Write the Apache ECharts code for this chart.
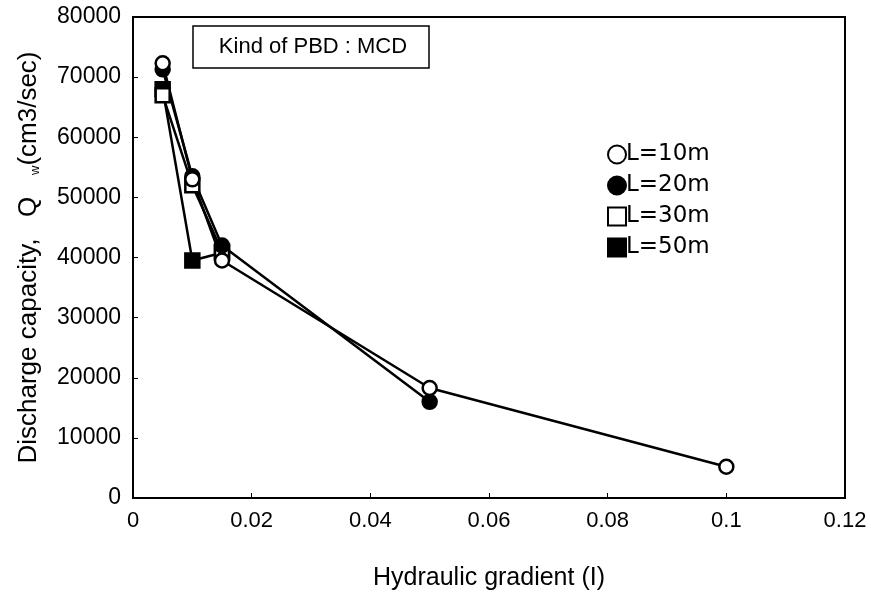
<!DOCTYPE html>
<html>
<head>
<meta charset="utf-8">
<script src="https://cdn.jsdelivr.net/npm/echarts@6/dist/echarts.min.js"></script>
<style>
  html, body { margin: 0; padding: 0; background: #fff; }
  #chart { width: 871px; height: 596px; }
</style>
</head>
<body>
<div id="chart"></div>
<script>
// hydraulic gradient (x) and discharge capacity (y) per drain length
var gradL10 = [0.005, 0.01, 0.015, 0.05, 0.1];
var qL10 = [72300, 53000, 39500, 18300, 5200];
var gradL20 = [0.005, 0.01, 0.015, 0.05];
var qL20 = [71300, 53500, 42000, 16000];
var gradL30 = [0.005, 0.01, 0.015];
var qL30 = [67000, 52000, 41000];
var gradL50 = [0.005, 0.01, 0.015];
var qL50 = [68000, 39500, 40800];

var seriesNames = ['L=10m', 'L=20m', 'L=30m', 'L=50m'];
var xTicks = [0, 0.02, 0.04, 0.06, 0.08, 0.1, 0.12];
var yTicks = [0, 10000, 20000, 30000, 40000, 50000, 60000, 70000, 80000];

function pairs(xs, ys) {
  return xs.map(function (x, i) { return [x, ys[i]]; });
}

var chart = echarts.init(document.getElementById('chart'));
var font = 'Liberation Sans, Arial, sans-serif';

function mkSeries(name, data, symbol, filled) {
  return {
    name: name,
    type: 'line',
    data: data,
    symbol: symbol,
    symbolSize: 14,
    itemStyle: {
      color: filled ? '#000' : '#fff',
      borderColor: '#000',
      borderWidth: 2.5
    },
    lineStyle: { color: '#000', width: 2.5 },
    animation: false
  };
}

var option = {
  backgroundColor: '#fff',
  animation: false,
  grid: {
    left: 133, right: 26, top: 17, bottom: 97,
    show: true, borderColor: '#000', borderWidth: 2, backgroundColor: 'transparent'
  },
  graphic: [
    {
      type: 'rect',
      shape: { x: 193, y: 26, width: 236, height: 42 },
      style: { fill: '#fff', stroke: '#000', lineWidth: 1.5 },
      z: 10
    },
    {
      type: 'text',
      x: 313, y: 47,
      style: {
        text: 'Kind of PBD : MCD',
        fontSize: 22, fontFamily: font, fill: '#000',
        align: 'center', verticalAlign: 'middle'
      },
      z: 11
    }
  ],
  legend: {
    orient: 'vertical',
    left: 602, top: 138,
    itemGap: 8,
    itemWidth: 18, itemHeight: 18,
    textStyle: { fontSize: 23, fontFamily: 'DejaVu Sans, sans-serif', color: '#000', padding: [0, 0, 0, -5] },
    data: [
      { name: seriesNames[0], icon: 'circle' },
      { name: seriesNames[1], icon: 'circle' },
      { name: seriesNames[2], icon: 'rect' },
      { name: seriesNames[3], icon: 'rect' }
    ]
  },
  xAxis: {
    type: 'value',
    min: 0, max: 0.12, interval: 0.02,
    name: 'Hydraulic gradient (I)',
    nameLocation: 'middle',
    nameGap: 68,
    nameTextStyle: { fontSize: 25, fontFamily: font, color: '#000' },
    axisLine: { show: true, lineStyle: { color: '#000', width: 2 } },
    axisTick: { show: true, inside: true, length: 5, lineStyle: { color: '#000' } },
    splitLine: { show: false },
    axisLabel: {
      fontSize: 22, fontFamily: font, color: '#000', margin: 12,
      formatter: function (v) { return xTicks.indexOf(+v.toFixed(2)) >= 0 ? String(+v.toFixed(2)) : ''; }
    }
  },
  yAxis: {
    type: 'value',
    min: 0, max: 80000, interval: 10000,
    name: 'Discharge capacity,   Q   {sub|w}(cm3/sec)',
    nameLocation: 'middle',
    nameRotate: 90,
    nameGap: 91,
    nameTextStyle: {
      fontSize: 26, fontFamily: font, color: '#000',
      rich: { sub: { fontSize: 13, fontFamily: font, color: '#000', verticalAlign: 'bottom', padding: [8, 0, 0, 0] } }
    },
    axisLine: { show: true, lineStyle: { color: '#000', width: 2 } },
    axisTick: { show: true, inside: true, length: 5, lineStyle: { color: '#000' } },
    splitLine: { show: false },
    axisLabel: {
      fontSize: 23, fontFamily: font, color: '#000', margin: 12,
      formatter: function (v) { return yTicks.indexOf(v) >= 0 ? String(v) : ''; }
    }
  },
  series: [
    mkSeries(seriesNames[3], pairs(gradL50, qL50), 'rect', true),
    mkSeries(seriesNames[2], pairs(gradL30, qL30), 'rect', false),
    mkSeries(seriesNames[1], pairs(gradL20, qL20), 'circle', true),
    mkSeries(seriesNames[0], pairs(gradL10, qL10), 'circle', false)
  ]
};

chart.setOption(option);
</script>
</body>
</html>
